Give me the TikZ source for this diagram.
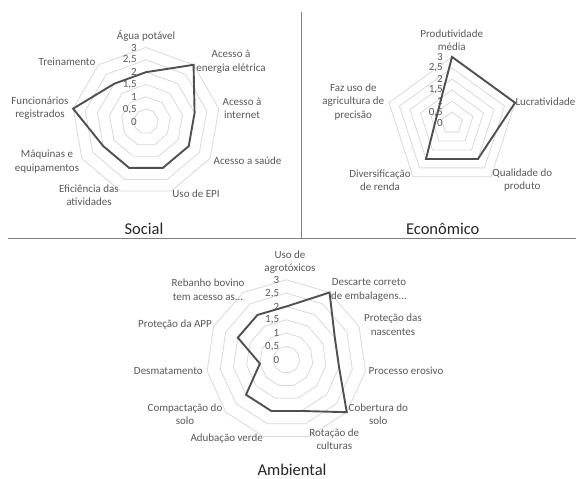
\documentclass[tikz,border=0pt]{standalone}
\usepackage{fontspec}
\setmainfont{Carlito}
\definecolor{lblgray}{HTML}{595959}
\definecolor{gridgray}{HTML}{D9D9D9}
\definecolor{datagray}{HTML}{505050}
\definecolor{divgray}{HTML}{7F7F7F}
\begin{document}
\begin{tikzpicture}[x=1pt,y=-1pt,
  lbl/.style={text=lblgray,font=\fontsize{11}{13.5}\selectfont,align=center,inner sep=0pt},
  num/.style={text=lblgray,font=\fontsize{11}{13}\selectfont,anchor=east,inner sep=0pt},
  ttl/.style={text=black!85,font=\fontsize{16.5}{20}\selectfont,inner sep=0pt},
  gridline/.style={draw=gridgray,line width=0.8pt},
  dataline/.style={draw=datagray,line width=1.9pt,line join=miter},
  divider/.style={draw=divgray,line width=1pt}]
\useasboundingbox (0,0) rectangle (576,479);

% ---------- Social ----------
\begin{scope}[shift={(146,121.5)}]
  \def\R{74}\def\A{40}
  \foreach \l in {1,...,6}{
    \draw[gridline] (0,{-\l*\R/6}) \foreach \k in {1,...,8}{ -- ({\l*\R/6*sin(\k*\A)},{-\l*\R/6*cos(\k*\A)}) } -- cycle;
  }
  \foreach \v/\t [count=\i] in {0/0,0.5/0{,}5,1/1,1.5/1{,}5,2/2,2.5/2{,}5,3/3}
    \node[num] (sn\i) at (-9,{-\v*\R/3}) {\t};
  \draw[dataline] (0,{-2*\R/3}) \foreach \v [count=\k] in {3,2,2,2,2,2,3,2}{ -- ({\v*\R/3*sin(\k*\A)},{-\v*\R/3*cos(\k*\A)}) } -- cycle;
\end{scope}
\node[lbl] (s-agua) at (146,36) {Água potável};
\node[lbl] (s-energia) at (231,61.5) {Acesso à\\energia elétrica};
\node[lbl] (s-internet) at (242,108.5) {Acesso à\\internet};
\node[lbl] (s-saude) at (247.5,161) {Acesso a saúde};
\node[lbl] (s-epi) at (196,194) {Uso de EPI};
\node[lbl] (s-efic) at (89,195) {Eficiência das\\atividades};
\node[lbl] (s-maq) at (47,161.5) {Máquinas e\\equipamentos};
\node[lbl] (s-func) at (40,108) {Funcionários\\registrados};
\node[lbl] (s-trein) at (67,62) {Treinamento};
\node[ttl] (s-title) at (144,228.5) {Social};

% ---------- Economico ----------
\begin{scope}[shift={(452,123.2)}]
  \def\R{66.3}\def\A{72}
  \foreach \l in {1,...,6}{
    \draw[gridline] (0,{-\l*\R/6}) \foreach \k in {1,...,4}{ -- ({\l*\R/6*sin(\k*\A)},{-\l*\R/6*cos(\k*\A)}) } -- cycle;
  }
  \foreach \v/\t [count=\i] in {0/0,0.5/0{,}5,1/1,1.5/1{,}5,2/2,2.5/2{,}5,3/3}
    \node[num] (en\i) at (-9,{-\v*\R/3}) {\t};
  \draw[dataline] (0,{-3*\R/3}) \foreach \v [count=\k] in {3,2,2,0.75}{ -- ({\v*\R/3*sin(\k*\A)},{-\v*\R/3*cos(\k*\A)}) } -- cycle;
\end{scope}
\node[lbl] (e-prod) at (451.7,40) {Produtividade\\média};
\node[lbl,anchor=east] (e-lucr) at (575.5,102) {Lucratividade};
\node[lbl] (e-qual) at (522.3,180) {Qualidade do\\produto};
\node[lbl] (e-div) at (380,180) {Diversificação\\de renda};
\node[lbl] (e-faz) at (353.3,102) {Faz uso de\\agricultura de\\precisão};
\node[ttl] (e-title) at (442.7,229.3) {Econômico};

% ---------- Ambiental ----------
\begin{scope}[shift={(286.3,359.8)}]
  \def\R{80}\def\A{32.72727}
  \foreach \l in {1,...,6}{
    \draw[gridline] (0,{-\l*\R/6}) \foreach \k in {1,...,10}{ -- ({\l*\R/6*sin(\k*\A)},{-\l*\R/6*cos(\k*\A)}) } -- cycle;
  }
  \foreach \v/\t [count=\i] in {0/0,0.5/0{,}5,1/1,1.5/1{,}5,2/2,2.5/2{,}5,3/3}
    \node[num] (an\i) at (-7,{-\v*\R/3}) {\t};
  \draw[dataline] (0,{-2*\R/3}) \foreach \v [count=\k] in {3,2,2,3,2,2,2,1,2,2}{ -- ({\v*\R/3*sin(\k*\A)},{-\v*\R/3*cos(\k*\A)}) } -- cycle;
\end{scope}
\node[lbl] (a-uso) at (290,262) {Uso de\\agrotóxicos};
\node[lbl] (a-desc) at (369,289.7) {Descarte correto\\de embalagens...};
\node[lbl] (a-nasc) at (393,324.7) {Proteção das\\nascentes};
\node[lbl] (a-eros) at (406,371) {Processo erosivo};
\node[lbl] (a-cob) at (378.3,414) {Cobertura do\\solo};
\node[lbl] (a-rot) at (334.3,439) {Rotação de\\culturas};
\node[lbl] (a-adub) at (226.7,439) {Adubação verde};
\node[lbl] (a-comp) at (185,414) {Compactação do\\solo};
\node[lbl] (a-desm) at (168.3,371) {Desmatamento};
\node[lbl] (a-app) at (175,325) {Proteção da APP};
\node[lbl] (a-reb) at (208,289.7) {Rebanho bovino\\tem acesso as...};
\node[ttl] (a-title) at (292,470) {Ambiental};

% ---------- dividers ----------
\coordinate (vtop) at (301,12);
\coordinate (vbot) at (301,238.5);
\coordinate (hleft) at (8,238.5);
\coordinate (hright) at (576,238.5);
\draw[divider] (vtop) -- (vbot);
\draw[divider] (hleft) -- (hright);
\end{tikzpicture}
\end{document}
